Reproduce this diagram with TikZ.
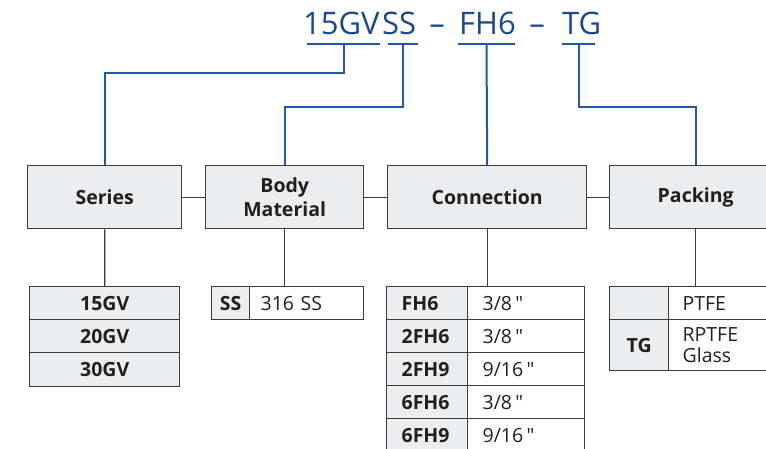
\documentclass[tikz,border=0pt]{standalone}
\usepackage{fontspec}
\setmainfont{Open Sans}
\newfontfamily\plainq{Open Sans}
\newcommand{\inch}{{\plainq\char34}}
\usetikzlibrary{calc}
\definecolor{tblue}{HTML}{1A4A8A}
\definecolor{lblue}{HTML}{2159A6}
\definecolor{bord}{HTML}{3C3C3C}
\definecolor{gfill}{HTML}{ECEDEE}
\definecolor{txt}{HTML}{231F20}
\begin{document}
\begin{tikzpicture}[x=1pt,y=-1pt,
  hdr/.style={draw=bord, line width=1.4pt, fill=gfill, minimum height=63pt, inner sep=0pt,
    font=\bfseries\fontsize{19.5}{23.5}\selectfont, text=txt, align=center, anchor=north west},
  gcell/.style={draw=bord, line width=1.3pt, fill=gfill, inner sep=0pt,
    font=\bfseries\fontsize{19.5}{23}\selectfont, text=txt, anchor=north west, align=center},
  gcode/.style={gcell, align=left, text width=51pt, inner xsep=15pt, minimum height=33pt},
  wcell/.style={draw=bord, line width=1.3pt, fill=white, inner ysep=0pt,
    font=\fontsize{19.5}{21.5}\selectfont, text=txt, anchor=north west, align=left},
  wval/.style={wcell, text width=87pt, inner xsep=15pt, minimum height=33pt},
  link/.style={draw=bord, line width=1.3pt},
  blink/.style={draw=lblue, line width=2pt},
  ttl/.style={text=tblue, font=\fontsize{31}{31}\selectfont, inner sep=0pt, anchor=base west}]
\path[use as bounding box] (0,0) rectangle (766,449);
\clip (0,0) rectangle (766,449);
\fill[white] (0,0) rectangle (766,449);

% title
\node[ttl] (t15) at (303,34.5) {15GV};
\node[ttl] (tss) at ([xshift=2pt]t15.base east) {SS};
\node[ttl, anchor=base] (d1) at (437,34.5) {–};
\node[ttl] (tfh) at (459,34.5) {FH6};
\node[ttl, anchor=base] (d2) at (537,34.5) {–};
\node[ttl] (ttg) at (562,34.5) {TG};

\coordinate (u1) at (343.5,44);
\coordinate (u2) at (403,44);
\coordinate (u3) at (486.5,44);
\coordinate (u4) at (578.5,44);
\draw[blink] ($(u1)+(-36.5,0)$) -- ($(u1)+(36.5,0)$);
\draw[blink] ($(u2)+(-15,0)$) -- ($(u2)+(15,0)$);
\draw[blink] ($(u3)+(-28.5,0)$) -- ($(u3)+(28.5,0)$);
\draw[blink] ($(u4)+(-16.5,0)$) -- ($(u4)+(16.5,0)$);

% header boxes
\node[hdr, minimum width=154pt] (series) at (27,165) {Series};
\node[hdr, minimum width=158pt] (body) at (205,165) {Body\\Material};
\node[hdr, minimum width=199pt] (conn) at (387,165) {Connection};
\node[hdr, minimum width=172pt] (pack) at (609,165) {Packing};

\draw[blink] (u1) -- ++(0,29) -| (series.north);
\draw[blink] (u2) -- ++(0,63) -| (body.north);
\draw[blink] (u3) -- (conn.north);
\draw[blink] (u4) -- ++(0,63) -| (pack.north);

\draw[link] (series.east) -- (body.west);
\draw[link] (body.east) -- (conn.west);
\draw[link] (conn.east) -- (pack.west);

% series table
\node[gcell, minimum width=150pt, minimum height=33pt] (s1) at (29,286) {15GV};
\node[gcell, minimum width=150pt, minimum height=33pt] (s2) at (29,319) {20GV};
\node[gcell, minimum width=150pt, minimum height=34pt] (s3) at (29,352) {30GV};

% body material table
\node[gcell, minimum width=38pt, minimum height=33pt] (ssk) at (211,286) {SS};
\node[wcell, text width=92pt, inner xsep=11pt, minimum height=33pt] (ssv) at (249,286) {316 SS};

% connection table
\node[gcode] (c1k) at (386,286) {FH6};
\node[wval]  (c1v) at (467,286) {3/8\,\inch};
\node[gcode] (c2k) at (386,319) {2FH6};
\node[wval]  (c2v) at (467,319) {3/8\,\inch};
\node[gcode] (c3k) at (386,352) {2FH9};
\node[wval]  (c3v) at (467,352) {9/16\,\inch};
\node[gcode] (c4k) at (386,385) {6FH6};
\node[wval]  (c4v) at (467,385) {3/8\,\inch};
\node[gcode] (c5k) at (386,418) {6FH9};
\node[wval]  (c5v) at (467,418) {9/16\,\inch};

% packing table
\node[gcell, minimum width=59pt, minimum height=33pt] (p1k) at (609,286) {};
\node[wcell, text width=85pt, inner xsep=14pt, minimum height=33pt] (p1v) at (668,286) {PTFE};
\node[gcell, minimum width=59pt, minimum height=51pt] (p2k) at (609,319) {TG};
\node[wcell, text width=85pt, inner xsep=14pt, minimum height=51pt] (p2v) at (668,319) {RPTFE\\Glass};

% down links
\draw[link] (series.south) -- (s1.north);
\draw[link] (body.south) -- (body.south |- ssv.north);
\draw[link] (conn.south) -- (conn.south |- c1v.north);
\draw[link] (pack.south) -- (pack.south |- p1v.north);
\end{tikzpicture}
\end{document}
